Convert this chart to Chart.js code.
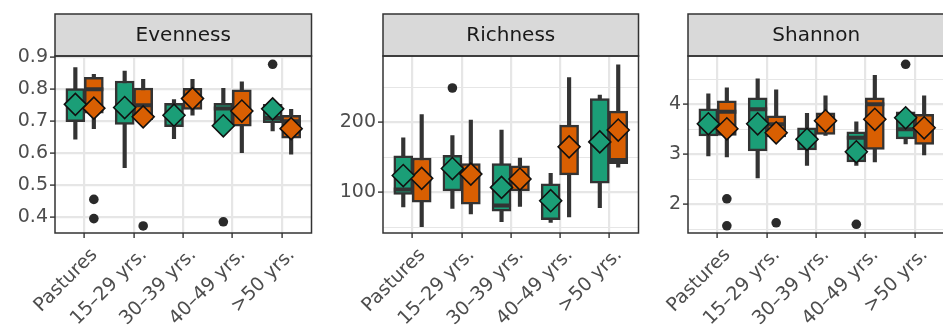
<!DOCTYPE html>
<html>
<head>
<meta charset="utf-8">
<script src="https://cdn.jsdelivr.net/npm/chart.js@4.4.0/dist/chart.umd.min.js"></script>
<style>
  html, body { margin: 0; padding: 0; background: #fff; overflow: hidden; width: 943px; height: 329px; }
  canvas { position: absolute; top: 0; }
</style>
</head>
<body>
<canvas id="even" width="325" height="329" style="left:0px"></canvas>
<canvas id="rich" width="329" height="329" style="left:323px"></canvas>
<canvas id="shan" width="308" height="329" style="left:650px"></canvas>
<script>
const categories = ['Pastures', '15–29 yrs.', '30–39 yrs.', '40–49 yrs.', '>50 yrs.'];

// box stats per category: [min, q1, median, q3, max]
const evenA = [[0.644, 0.699, 0.755, 0.802, 0.868], [0.555, 0.690, 0.745, 0.826, 0.857], [0.646, 0.683, 0.720, 0.756, 0.768], [0.670, 0.692, 0.740, 0.756, 0.803], [0.670, 0.696, 0.710, 0.753, 0.760]];
const evenB = [[0.677, 0.725, 0.800, 0.837, 0.847], [0.700, 0.705, 0.750, 0.804, 0.831], [0.719, 0.737, 0.770, 0.803, 0.831], [0.602, 0.685, 0.730, 0.798, 0.823], [0.597, 0.647, 0.700, 0.719, 0.737]];
const evenMeanA = [0.753, 0.743, 0.719, 0.686, 0.739];
const evenMeanB = [0.741, 0.714, 0.771, 0.732, 0.677];
const evenOutA = [[], [], [], [0.386], [0.878]];
const evenOutB = [[0.456, 0.396], [0.373], [], [], []];
const evenTicks = [0.4, 0.5, 0.6, 0.7, 0.8, 0.9];

const richA = [[79, 97, 104, 152, 178], [77, 102, 135, 153, 181], [58, 73, 81, 141, 189], [57, 61, 85, 112, 127], [78, 113, 170, 234, 239]];
const richB = [[51, 86, 118, 149, 211], [69, 83, 128, 141, 203], [80, 102, 118, 138, 149], [65, 125, 165, 196, 264], [136, 141, 146, 216, 282]];
const richMeanA = [124, 134, 107, 88, 172];
const richMeanB = [120, 126, 119, 165, 189];
const richOutA = [[], [249], [], [], []];
const richOutB = [[], [], [], [], []];
const richTicks = [100, 200];

const shanA = [[2.97, 3.37, 3.60, 3.91, 4.21], [2.53, 3.07, 3.90, 4.13, 4.51], [2.78, 3.09, 3.30, 3.53, 3.82], [2.78, 2.85, 3.33, 3.45, 3.65], [3.21, 3.31, 3.50, 3.85, 3.90]];
const shanB = [[2.95, 3.38, 3.85, 4.07, 4.33], [3.30, 3.35, 3.60, 3.77, 4.29], [3.38, 3.40, 3.65, 3.83, 4.17], [2.85, 3.10, 4.00, 4.13, 4.58], [2.99, 3.20, 3.50, 3.80, 4.17]];
const shanMeanA = [3.61, 3.61, 3.30, 3.05, 3.73];
const shanMeanB = [3.51, 3.43, 3.67, 3.70, 3.53];
const shanOutA = [[], [], [], [1.60], [4.80]];
const shanOutB = [[2.11, 1.57], [1.63], [], [], []];
const shanTicks = [2, 3, 4];

const GREEN = '#1B9E77', ORANGE = '#D95F02', INK = '#333333', GRID = '#E6E6E6';
const FONT = 'DejaVu Sans';
const DODGE = 0.1875;

function groupSets(stats, means, outliers, color, dx) {
  const at = i => i + dx;
  return [
    { type: 'bar', data: stats.map((s, i) => ({ x: at(i), y: [s[0], s[4]] })),
      backgroundColor: INK, borderWidth: 0, barThickness: 3.5, grouped: false, order: 5 },
    { type: 'bar', data: stats.map((s, i) => ({ x: at(i), y: [s[1], s[3]] })),
      backgroundColor: color, borderColor: INK, borderWidth: 2.5, borderSkipped: false,
      barThickness: 19, grouped: false, order: 4 },
    { type: 'scatter', data: stats.map((s, i) => ({ x: at(i), y: s[2] })),
      pointStyle: 'line', pointRadius: 9.5, pointBorderColor: INK, pointBorderWidth: 4, order: 3 },
    { type: 'scatter', data: means.map((m, i) => ({ x: at(i), y: m })),
      pointStyle: 'rectRot', pointRadius: 11, pointBackgroundColor: color,
      pointBorderColor: '#111', pointBorderWidth: 1.6, order: 1 },
    { type: 'scatter', data: outliers.flatMap((vals, i) => vals.map(v => ({ x: at(i), y: v }))),
      pointStyle: 'circle', pointRadius: 4.8, pointBackgroundColor: '#2A2A2A', pointBorderWidth: 0, order: 0 }
  ];
}

// facet strip on top plus the dark panel frame
const stripPlugin = {
  id: 'strip',
  afterDraw(chart, args, opts) {
    const { ctx, chartArea: a } = chart;
    const top = 14;
    ctx.save();
    ctx.fillStyle = '#D9D9D9';
    ctx.fillRect(a.left, top, a.right - a.left, a.top - top);
    ctx.strokeStyle = INK;
    ctx.lineWidth = 1.5;
    ctx.strokeRect(a.left, top, a.right - a.left, a.top - top);
    ctx.strokeRect(a.left, a.top, a.right - a.left, a.bottom - a.top);
    ctx.fillStyle = '#1A1A1A';
    ctx.font = '20px "' + FONT + '"';
    ctx.textAlign = 'center';
    ctx.textBaseline = 'middle';
    ctx.fillText(opts.title, (a.left + a.right) / 2, (top + a.top) / 2 + 1);
    ctx.restore();
  }
};

function facet(id, title, yMin, yMax, majors, axisWidth, sets) {
  const step = majors[1] - majors[0];
  const all = [];
  for (let v = majors[0] - step; v <= yMax + 1e-9; v += step / 2) {
    if (v >= yMin - 1e-9) all.push(Math.round(v * 1000) / 1000);
  }
  const isMajor = v => majors.some(m => Math.abs(m - v) < 1e-6);
  new Chart(document.getElementById(id), {
    type: 'scatter',
    data: { datasets: sets },
    options: {
      responsive: false,
      animation: false,
      events: [],
      layout: { padding: { top: 56, right: 4, bottom: 0, left: 0 } },
      plugins: { legend: { display: false }, tooltip: { enabled: false }, strip: { title } },
      scales: {
        x: {
          type: 'linear', min: -0.6, max: 4.6, offset: false,
          afterBuildTicks: s => { s.ticks = categories.map((c, i) => ({ value: i })); },
          afterFit: s => { s.height = 96; s.paddingLeft = 0; s.paddingRight = 0; },
          ticks: {
            autoSkip: false, minRotation: 45, maxRotation: 45, padding: 6, labelOffset: 10,
            color: '#4D4D4D', font: { family: FONT, size: 19 },
            callback: v => categories[v]
          },
          grid: { color: GRID, lineWidth: 2.2, tickColor: INK, tickLength: 5, tickWidth: 1.4, offset: false },
          border: { display: false }
        },
        y: {
          type: 'linear', min: yMin, max: yMax, beginAtZero: false,
          afterBuildTicks: s => { s.ticks = all.map(v => ({ value: v })); },
          afterFit: s => { s.width = axisWidth; s.paddingTop = 0; s.paddingBottom = 0; },
          ticks: {
            padding: 2, color: '#4D4D4D', font: { family: FONT, size: 19 },
            callback: v => isMajor(v) ? String(v) : ''
          },
          grid: {
            color: GRID,
            lineWidth: c => (c.tick && isMajor(c.tick.value)) ? 2.2 : 1.1,
            tickColor: c => (c.tick && isMajor(c.tick.value)) ? INK : 'rgba(0,0,0,0)',
            tickLength: 5, tickWidth: 1.4
          },
          border: { display: false }
        }
      }
    },
    plugins: [stripPlugin]
  });
}

facet('even', 'Evenness', 0.351, 0.904, evenTicks, 55,
  groupSets(evenA, evenMeanA, evenOutA, GREEN, -DODGE).concat(groupSets(evenB, evenMeanB, evenOutB, ORANGE, DODGE)));
facet('rich', 'Richness', 41.9, 294.7, richTicks, 60,
  groupSets(richA, richMeanA, richOutA, GREEN, -DODGE).concat(groupSets(richB, richMeanB, richOutB, ORANGE, DODGE)));
facet('shan', 'Shannon', 1.426, 4.966, shanTicks, 38,
  groupSets(shanA, shanMeanA, shanOutA, GREEN, -DODGE).concat(groupSets(shanB, shanMeanB, shanOutB, ORANGE, DODGE)));
</script>
</body>
</html>
